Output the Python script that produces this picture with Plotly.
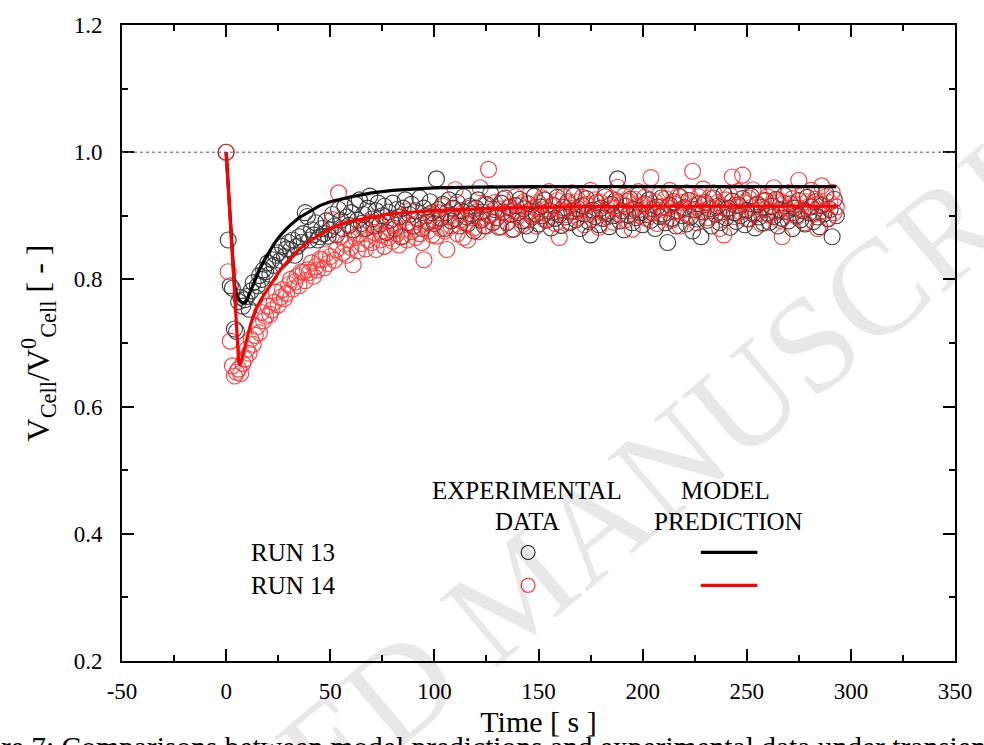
import plotly.graph_objects as go

# ---------------- data ----------------
t13 = list(range(0, 294))
run13_exp = [
    1.000, 0.862, 0.790, 0.786, 0.722, 0.718, 0.765, 0.772, 0.758, 0.768,
    0.773, 0.753, 0.782, 0.795, 0.772, 0.790, 0.806, 0.800, 0.815, 0.812,
    0.826, 0.808, 0.831, 0.822, 0.838, 0.842, 0.830, 0.852, 0.836, 0.848,
    0.858, 0.847, 0.862, 0.838, 0.852, 0.867, 0.858, 0.872, 0.905, 0.899,
    0.862, 0.878, 0.870, 0.889, 0.862, 0.867, 0.880, 0.872, 0.892, 0.868,
    0.878, 0.902, 0.884, 0.870, 0.910, 0.893, 0.880, 0.914, 0.898, 0.885,
    0.905, 0.878, 0.918, 0.893, 0.925, 0.888, 0.902, 0.880, 0.912, 0.931,
    0.895, 0.884, 0.908, 0.920, 0.887, 0.900, 0.915, 0.874, 0.906, 0.893,
    0.920, 0.880, 0.910, 0.898, 0.867, 0.912, 0.925, 0.889, 0.902, 0.918,
    0.884, 0.908, 0.895, 0.928, 0.880, 0.912, 0.900, 0.890, 0.922, 0.905,
    0.888, 0.958, 0.910, 0.896, 0.918, 0.880, 0.905, 0.925, 0.892, 0.912,
    0.895, 0.921, 0.884, 0.908, 0.930, 0.899, 0.887, 0.915, 0.903, 0.876,
    0.912, 0.925, 0.893, 0.906, 0.884, 0.918, 0.901, 0.935, 0.890, 0.910,
    0.897, 0.882, 0.920, 0.906, 0.928, 0.889, 0.913, 0.902, 0.879, 0.916,
    0.905, 0.926, 0.892, 0.911, 0.884, 0.919, 0.870, 0.898, 0.931, 0.903,
    0.887, 0.914, 0.900, 0.925, 0.893, 0.908, 0.881, 0.917, 0.896, 0.929,
    0.902, 0.885, 0.913, 0.898, 0.922, 0.889, 0.907, 0.932, 0.894, 0.911,
    0.880, 0.916, 0.903, 0.927, 0.891, 0.870, 0.909, 0.899, 0.921, 0.886,
    0.912, 0.896, 0.930, 0.904, 0.883, 0.918, 0.900, 0.924, 0.958, 0.892,
    0.908, 0.878, 0.915, 0.901, 0.926, 0.889, 0.910, 0.897, 0.933, 0.905,
    0.886, 0.919, 0.902, 0.925, 0.893, 0.911, 0.880, 0.914, 0.899, 0.928,
    0.903, 0.889, 0.858, 0.917, 0.896, 0.922, 0.884, 0.908, 0.930, 0.900,
    0.913, 0.887, 0.924, 0.898, 0.876, 0.910, 0.895, 0.919, 0.867, 0.906,
    0.921, 0.893, 0.911, 0.884, 0.928, 0.902, 0.915, 0.889, 0.906, 0.934,
    0.897, 0.912, 0.882, 0.923, 0.905, 0.891, 0.917, 0.900, 0.927, 0.886,
    0.909, 0.895, 0.931, 0.903, 0.881, 0.918, 0.898, 0.913, 0.889, 0.924,
    0.904, 0.890, 0.915, 0.899, 0.926, 0.884, 0.910, 0.896, 0.932, 0.907,
    0.892, 0.919, 0.880, 0.912, 0.901, 0.924, 0.894, 0.908, 0.887, 0.929,
    0.905, 0.914, 0.891, 0.922, 0.898, 0.883, 0.916, 0.903, 0.935, 0.895,
    0.910, 0.867, 0.926, 0.900,
]

t14 = list(range(0, 294))
run14_exp = [
    1.000, 0.812, 0.703, 0.664, 0.648, 0.654, 0.659, 0.652, 0.668, 0.675,
    0.690, 0.684, 0.706, 0.698, 0.712, 0.726, 0.716, 0.748, 0.735, 0.742,
    0.758, 0.745, 0.752, 0.764, 0.780, 0.760, 0.772, 0.784, 0.770, 0.778,
    0.792, 0.800, 0.785, 0.796, 0.805, 0.790, 0.812, 0.811, 0.798, 0.815,
    0.811, 0.826, 0.805, 0.820, 0.815, 0.832, 0.831, 0.818, 0.840, 0.825,
    0.836, 0.894, 0.830, 0.847, 0.936, 0.867, 0.842, 0.856, 0.838, 0.862,
    0.850, 0.823, 0.866, 0.845, 0.872, 0.856, 0.880, 0.848, 0.862, 0.890,
    0.858, 0.874, 0.847, 0.884, 0.862, 0.870, 0.852, 0.892, 0.866, 0.878,
    0.860, 0.886, 0.872, 0.854, 0.898, 0.868, 0.880, 0.862, 0.908, 0.875,
    0.884, 0.866, 0.895, 0.872, 0.858, 0.831, 0.888, 0.876, 0.902, 0.870,
    0.892, 0.868, 0.905, 0.880, 0.915, 0.876, 0.847, 0.898, 0.884, 0.910,
    0.941, 0.872, 0.893, 0.903, 0.866, 0.888, 0.862, 0.912, 0.897, 0.881,
    0.906, 0.875, 0.944, 0.894, 0.918, 0.884, 0.973, 0.902, 0.889, 0.921,
    0.897, 0.911, 0.883, 0.926, 0.904, 0.890, 0.915, 0.878, 0.908, 0.930,
    0.899, 0.917, 0.886, 0.922, 0.906, 0.893, 0.935, 0.901, 0.913, 0.884,
    0.920, 0.905, 0.928, 0.894, 0.911, 0.938, 0.899, 0.916, 0.888, 0.924,
    0.866, 0.909, 0.930, 0.902, 0.919, 0.891, 0.936, 0.907, 0.922, 0.897,
    0.913, 0.929, 0.886, 0.918, 0.903, 0.940, 0.895, 0.925, 0.910, 0.882,
    0.921, 0.906, 0.934, 0.898, 0.916, 0.927, 0.890, 0.912, 0.945, 0.903,
    0.918, 0.931, 0.894, 0.923, 0.908, 0.879, 0.926, 0.913, 0.938, 0.901,
    0.917, 0.929, 0.896, 0.911, 0.960, 0.905, 0.922, 0.888, 0.933, 0.914,
    0.899, 0.927, 0.912, 0.940, 0.893, 0.919, 0.907, 0.931, 0.884, 0.921,
    0.910, 0.936, 0.902, 0.924, 0.970, 0.915, 0.889, 0.930, 0.906, 0.942,
    0.918, 0.897, 0.928, 0.911, 0.936, 0.903, 0.921, 0.880, 0.914, 0.870,
    0.925, 0.908, 0.932, 0.961, 0.899, 0.917, 0.938, 0.906, 0.964, 0.921,
    0.895, 0.928, 0.913, 0.941, 0.902, 0.919, 0.934, 0.887, 0.923, 0.910,
    0.930, 0.901, 0.916, 0.944, 0.906, 0.925, 0.893, 0.867, 0.920, 0.912,
    0.936, 0.904, 0.927, 0.918, 0.898, 0.956, 0.911, 0.933, 0.889, 0.922,
    0.915, 0.940, 0.903, 0.926, 0.880, 0.918, 0.947, 0.908, 0.930, 0.896,
    0.921, 0.937, 0.905, 0.914,
]

t13_model = [0, 1, 2, 3, 4, 5, 6, 7, 8, 9, 10, 12, 14, 16, 18, 20, 23, 26, 30,
             35, 40, 45, 50, 60, 70, 80, 90, 100, 120, 150, 200, 250, 293]
run13_model = [1.000, 0.950, 0.895, 0.840, 0.792, 0.776, 0.769, 0.765, 0.763,
               0.764, 0.768, 0.784, 0.800, 0.815, 0.828, 0.840, 0.856, 0.869,
               0.883, 0.897, 0.907, 0.916, 0.922, 0.930, 0.936, 0.940, 0.942,
               0.944, 0.945, 0.946, 0.946, 0.946, 0.946]

t14_model = [0, 1, 2, 3, 4, 5, 6, 6.5, 7, 8, 9, 10, 11, 13, 15, 17, 19, 22, 26,
             30, 35, 40, 45, 50, 58, 70, 82, 100, 130, 160, 200, 250, 293]
run14_model = [1.000, 0.945, 0.890, 0.835, 0.780, 0.725, 0.672, 0.665, 0.668,
               0.680, 0.695, 0.708, 0.720, 0.742, 0.758, 0.770, 0.780, 0.797,
               0.815, 0.830, 0.847, 0.860, 0.870, 0.880, 0.890, 0.898, 0.904,
               0.908, 0.912, 0.914, 0.915, 0.915, 0.915]

x_ticks = [-50, 0, 50, 100, 150, 200, 250, 300, 350]
x_tick_labels = ["-50", "0", "50", "100", "150", "200", "250", "300", "350"]
y_ticks = [0.2, 0.4, 0.6, 0.8, 1.0, 1.2]
y_tick_labels = ["0.2", "0.4", "0.6", "0.8", "1.0", "1.2"]

# ---------------- figure ----------------
SERIF = "Liberation Serif"
BLACK = "#1a1a1a"
RED = "#ff1a1a"

fig = go.Figure()
fig.add_trace(go.Scatter(x=t13, y=run13_exp, mode="markers",
                         marker=dict(symbol="circle-open", size=16,
                                     color=BLACK, line=dict(width=1.1, color=BLACK)),
                         opacity=0.85, showlegend=False))
fig.add_trace(go.Scatter(x=t14, y=run14_exp, mode="markers",
                         marker=dict(symbol="circle-open", size=16,
                                     color=RED, line=dict(width=1.1, color=RED)),
                         opacity=0.85, showlegend=False))
fig.add_trace(go.Scatter(x=t13_model, y=run13_model, mode="lines",
                         line=dict(color="black", width=3.2), showlegend=False))
fig.add_trace(go.Scatter(x=t14_model, y=run14_model, mode="lines",
                         line=dict(color="#ff0000", width=3.2), showlegend=False))

axis_common = dict(
    showline=True, linewidth=2, linecolor="black", mirror="ticks",
    ticks="inside", ticklen=12, tickwidth=2, tickcolor="black",
    showgrid=False, zeroline=False,
    tickfont=dict(family=SERIF, size=23, color="black"),
)

fig.update_xaxes(range=[-50, 350], tickvals=x_ticks, ticktext=x_tick_labels,
                 minor=dict(ticks="inside", ticklen=6, tickwidth=2,
                            tickcolor="black", dtick=25, tick0=-50, showgrid=False),
                 ticklabelstandoff=8,
                 title=dict(text="Time [ s ]", font=dict(family=SERIF, size=30, color="black"),
                            standoff=8),
                 **axis_common)
fig.update_yaxes(range=[0.2, 1.2], tickvals=y_ticks, ticktext=y_tick_labels,
                 minor=dict(ticks="inside", ticklen=6, tickwidth=2,
                            tickcolor="black", dtick=0.1, tick0=0.2, showgrid=False),
                 ticklabelstandoff=13,
                 title=dict(text="V<sub>Cell</sub>/V<sup>0</sup><sub>Cell</sub> [ - ]",
                            font=dict(family=SERIF, size=32, color="black"),
                            standoff=14),
                 **axis_common)

# reference line at 1.0
fig.add_shape(type="line", xref="paper", x0=0, x1=1, yref="y", y0=1.0, y1=1.0,
              line=dict(color="#555555", width=1, dash="dot"))

# legend (manual, table-like)
leg_font = dict(family=SERIF, size=25, color="black")
anns = [
    dict(text="EXPERIMENTAL", x=0.4863, y=0.2678),
    dict(text="DATA", x=0.4863, y=0.2193),
    dict(text="MODEL", x=0.7247, y=0.2678),
    dict(text="PREDICTION", x=0.7282, y=0.2193),
]
for a in anns:
    fig.add_annotation(text=a["text"], x=a["x"], y=a["y"], xref="paper", yref="paper",
                       showarrow=False, xanchor="center", yanchor="middle", font=leg_font)
fig.add_annotation(text="RUN 13", x=0.1526, y=0.1707, xref="paper", yref="paper",
                   showarrow=False, xanchor="left", yanchor="middle", font=leg_font)
fig.add_annotation(text="RUN 14", x=0.1526, y=0.119, xref="paper", yref="paper",
                   showarrow=False, xanchor="left", yanchor="middle", font=leg_font)

for yy, col in [(0.1707, BLACK), (0.119, RED)]:
    fig.add_shape(type="circle", xref="paper", yref="paper",
                  x0=0.4875 - 0.0083, x1=0.4875 + 0.0083,
                  y0=yy - 0.0110, y1=yy + 0.0110,
                  line=dict(color=col, width=1.1))
for yy, col in [(0.1707, "black"), (0.119, "#ff0000")]:
    fig.add_shape(type="line", xref="paper", yref="paper",
                  x0=0.6949, x1=0.7628, y0=yy, y1=yy,
                  line=dict(color=col, width=3.2))

# watermark
fig.add_annotation(text="ACCEPTED MANUSCRIPT", x=0.4744, y=0.1112, xref="paper", yref="paper",
                   showarrow=False, textangle=-40, xanchor="center", yanchor="middle",
                   font=dict(family=SERIF, size=136, color="rgba(0,0,0,0.09)"))

# cut-off caption at the bottom
fig.add_annotation(text="re 7: Comparisons between model predictions and experimental data under transient",
                   x=-0.1478, y=-0.1065, xref="paper", yref="paper",
                   showarrow=False, xanchor="left", yanchor="top",
                   font=dict(family=SERIF, size=29.5, color="black"))

fig.update_layout(
    width=984, height=745,
    margin=dict(l=122, r=23, t=25, b=82),
    plot_bgcolor="white", paper_bgcolor="white",
    showlegend=False,
)

fig.write_html("out.html")
